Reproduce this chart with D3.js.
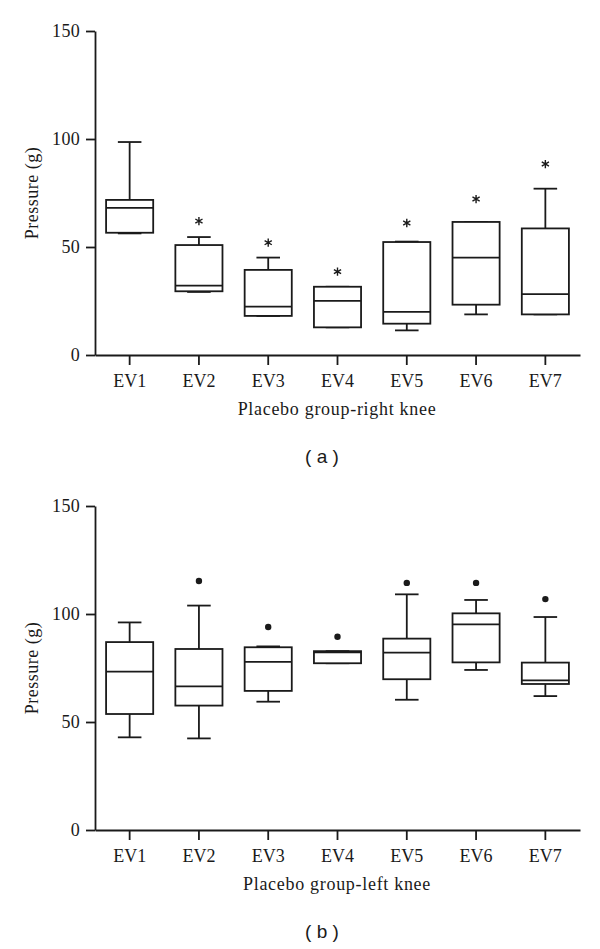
<!DOCTYPE html>
<html>
<head>
<meta charset="utf-8">
<script src="https://cdn.jsdelivr.net/npm/d3@7"></script>
<style>
  html, body { margin: 0; padding: 0; background: #fff; }
  svg { display: block; }
  .serif { font-family: "Liberation Serif", "Times New Roman", serif; }
</style>
</head>
<body>
<svg id="chart" width="600" height="949"></svg>
<script>
// ---- Data ----
const categories = ["EV1", "EV2", "EV3", "EV4", "EV5", "EV6", "EV7"];
const yTicks = [0, 50, 100, 150];

// Panel (a): Placebo group - right knee
const rightLow  = [56.3, 29.2, 18.1, 12.8, 11.4, 18.8, 18.8];
const rightQ1   = [56.6, 29.5, 18.1, 12.8, 14.5, 23.3, 18.8];
const rightMed  = [68.1, 32.1, 22.4, 25.1, 20.0, 45.1, 28.2];
const rightQ3   = [71.8, 50.9, 39.4, 31.6, 52.3, 61.6, 58.6];
const rightHigh = [98.6, 54.6, 45.1, 31.6, 52.5, 61.6, 77.0];
const rightStar = [null, 62.0, 52.0, 38.6, 61.1, 72.2, 88.4];

// Panel (b): Placebo group - left knee
const leftLow  = [42.9, 42.4, 59.4, 77.2, 60.3, 74.1, 62.0];
const leftQ1   = [53.7, 57.6, 64.4, 77.2, 69.8, 77.6, 67.6];
const leftMed  = [73.3, 66.5, 77.8, 82.2, 82.1, 95.2, 69.3];
const leftQ3   = [87.0, 83.8, 84.6, 82.8, 88.6, 100.3, 77.5];
const leftHigh = [96.1, 103.9, 85.0, 82.8, 109.1, 106.5, 98.6];
const leftOut  = [null, 115.3, 94.0, 89.5, 114.4, 114.4, 106.9];

const panels = [
  { title: "Placebo group-right knee", tag: "( a )", top: 31, bottom: 355,
    low: rightLow, q1: rightQ1, med: rightMed, q3: rightQ3, high: rightHigh,
    extra: rightStar, extraType: "star" },
  { title: "Placebo group-left knee", tag: "( b )", top: 506, bottom: 830,
    low: leftLow, q1: leftQ1, med: leftMed, q3: leftQ3, high: leftHigh,
    extra: leftOut, extraType: "dot" }
];

const svg = d3.select("#chart");
const ink = "#1a1a1a";
const fontSize = 18;
const sw = 1.8;

const x = d3.scaleBand().domain(categories).range([95, 580]).padding(0);
const boxW = x.bandwidth() * 0.68;
const capW = x.bandwidth() * 0.34;

panels.forEach(p => {
  const y = d3.scaleLinear().domain([0, 150]).range([p.bottom, p.top]);
  const g = svg.append("g");

  // Y axis
  const yAxis = g.append("g")
    .attr("transform", "translate(95,0)")
    .call(d3.axisLeft(y).tickValues(yTicks).tickSize(9).tickPadding(6).tickSizeOuter(0));
  yAxis.select(".domain").attr("stroke", ink).attr("stroke-width", sw);
  yAxis.selectAll(".tick line").attr("stroke", ink).attr("stroke-width", sw);
  yAxis.selectAll(".tick text").attr("class", "serif")
    .attr("font-size", fontSize).attr("fill", ink).attr("letter-spacing", 0.3);

  // X axis
  const xAxis = g.append("g")
    .attr("transform", `translate(0,${p.bottom})`)
    .call(d3.axisBottom(x).tickSize(10).tickPadding(9).tickSizeOuter(0));
  xAxis.select(".domain").attr("stroke", ink).attr("stroke-width", sw);
  xAxis.selectAll(".tick line").attr("stroke", ink).attr("stroke-width", sw);
  xAxis.selectAll(".tick text").attr("class", "serif")
    .attr("font-size", fontSize).attr("fill", ink);

  // Y label
  g.append("text").attr("class", "serif")
    .attr("transform", `translate(38,${(p.top + p.bottom) / 2}) rotate(-90)`)
    .attr("text-anchor", "middle")
    .attr("font-size", fontSize).attr("letter-spacing", 0.5).attr("fill", ink)
    .text("Pressure (g)");

  // X title
  g.append("text").attr("class", "serif")
    .attr("x", 337).attr("y", p.bottom + 60)
    .attr("text-anchor", "middle")
    .attr("font-size", fontSize).attr("letter-spacing", 0.7).attr("fill", ink)
    .text(p.title);

  // Panel tag
  g.append("text")
    .attr("x", 322).attr("y", p.bottom + 108)
    .attr("text-anchor", "middle")
    .attr("font-family", "'Liberation Sans', Arial, sans-serif")
    .attr("font-size", 19).attr("fill", ink)
    .text(p.tag);

  // Boxes
  categories.forEach((c, i) => {
    const cx = x(c) + x.bandwidth() / 2;
    const bg = g.append("g").attr("stroke", ink).attr("stroke-width", sw).attr("fill", "none");
    // upper whisker
    if (p.high[i] > p.q3[i]) {
      bg.append("line").attr("x1", cx).attr("x2", cx).attr("y1", y(p.q3[i])).attr("y2", y(p.high[i]));
    }
    bg.append("line").attr("x1", cx - capW / 2).attr("x2", cx + capW / 2)
      .attr("y1", y(p.high[i])).attr("y2", y(p.high[i]));
    // lower whisker
    if (p.low[i] < p.q1[i]) {
      bg.append("line").attr("x1", cx).attr("x2", cx).attr("y1", y(p.q1[i])).attr("y2", y(p.low[i]));
    }
    bg.append("line").attr("x1", cx - capW / 2).attr("x2", cx + capW / 2)
      .attr("y1", y(p.low[i])).attr("y2", y(p.low[i]));
    // box
    bg.append("rect").attr("x", cx - boxW / 2).attr("width", boxW)
      .attr("y", y(p.q3[i])).attr("height", y(p.q1[i]) - y(p.q3[i]))
      .attr("fill", "#fff");
    // median
    bg.append("line").attr("x1", cx - boxW / 2).attr("x2", cx + boxW / 2)
      .attr("y1", y(p.med[i])).attr("y2", y(p.med[i]));

    // marker
    const v = p.extra[i];
    if (v != null) {
      if (p.extraType === "star") {
        g.append("path")
          .attr("transform", `translate(${cx},${y(v)})`)
          .attr("d", d3.symbol().type(d3.symbolAsterisk).size(48)())
          .attr("stroke", ink).attr("stroke-width", 1.4).attr("fill", "none");
      } else {
        g.append("circle").attr("cx", cx).attr("cy", y(v)).attr("r", 3.2)
          .attr("fill", ink);
      }
    }
  });
});
</script>
</body>
</html>
